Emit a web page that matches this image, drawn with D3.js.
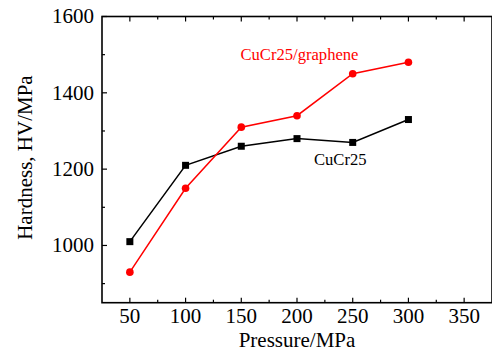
<!DOCTYPE html>
<html>
<head>
<meta charset="utf-8">
<script src="https://cdn.jsdelivr.net/npm/d3@7"></script>
<style>
  body { margin: 0; background: #fff; }
  text { font-family: "Liberation Serif", "Times New Roman", serif; }
</style>
</head>
<body>
<div id="viz"></div>
<script>
// pressure (MPa) and hardness (HV/MPa)
const pressure = [50, 100, 150, 200, 250, 300];
const cucr25 = [1010, 1210, 1260, 1280, 1270, 1330];
const cucr25Graphene = [930, 1150, 1310, 1340, 1450, 1480];
const seriesNames = ["CuCr25", "CuCr25/graphene"];
const xTicks = [50, 100, 150, 200, 250, 300, 350];
const yTicks = [1000, 1200, 1400, 1600];

const width = 492, height = 351;
const plot = {left: 102, right: 492, top: 16.5, bottom: 302.7};

const svg = d3.select("#viz").append("svg")
  .attr("width", width)
  .attr("height", height);

const x = d3.scaleLinear().domain([25, 375]).range([plot.left, plot.right]);
const y = d3.scaleLinear().domain([850, 1600]).range([plot.bottom, plot.top]);

const minorX = d3.range(75, 375, 50);
const minorY = d3.range(900, 1600, 200);

// frame
svg.append("rect")
  .attr("x", plot.left).attr("y", plot.top)
  .attr("width", plot.right - plot.left).attr("height", plot.bottom - plot.top)
  .attr("fill", "none").attr("stroke", "#000").attr("stroke-width", 1.6);

// ticks, all pointing inward
const ticks = svg.append("g").attr("stroke", "#000").attr("stroke-width", 1.2);
xTicks.forEach(v => {
  ticks.append("line").attr("x1", x(v)).attr("x2", x(v)).attr("y1", plot.bottom).attr("y2", plot.bottom - 5);
  ticks.append("line").attr("x1", x(v)).attr("x2", x(v)).attr("y1", plot.top).attr("y2", plot.top + 5);
});
minorX.forEach(v => {
  ticks.append("line").attr("x1", x(v)).attr("x2", x(v)).attr("y1", plot.bottom).attr("y2", plot.bottom - 3);
  ticks.append("line").attr("x1", x(v)).attr("x2", x(v)).attr("y1", plot.top).attr("y2", plot.top + 3);
});
yTicks.forEach(v => {
  ticks.append("line").attr("x1", plot.left).attr("x2", plot.left + 5).attr("y1", y(v)).attr("y2", y(v));
});
minorY.forEach(v => {
  ticks.append("line").attr("x1", plot.left).attr("x2", plot.left + 3).attr("y1", y(v)).attr("y2", y(v));
});

// tick labels
svg.append("g").selectAll("text")
  .data(xTicks)
  .join("text")
  .attr("x", d => x(d))
  .attr("y", plot.bottom + 20)
  .attr("text-anchor", "middle")
  .attr("font-size", "21px")
  .text(d => d);

svg.append("g").selectAll("text")
  .data(yTicks)
  .join("text")
  .attr("x", plot.left - 8)
  .attr("y", d => y(d))
  .attr("dy", "0.33em")
  .attr("text-anchor", "end")
  .attr("font-size", "21px")
  .text(d => d);

// axis titles
svg.append("text")
  .attr("x", (plot.left + plot.right) / 2)
  .attr("y", 346.5)
  .attr("text-anchor", "middle")
  .attr("font-size", "21px")
  .text("Pressure/MPa");

svg.append("text")
  .attr("transform", `translate(31.5, ${(plot.top + plot.bottom) / 2 - 2}) rotate(-90)`)
  .attr("text-anchor", "middle")
  .attr("font-size", "21px")
  .text("Hardness, HV/MPa");

// series
const series = [
  { name: seriesNames[0], values: cucr25, color: "#000", shape: "square" },
  { name: seriesNames[1], values: cucr25Graphene, color: "#ff0000", shape: "circle" }
];

const line = d3.line()
  .x((d, i) => x(pressure[i]))
  .y(d => y(d));

series.forEach(s => {
  svg.append("path")
    .datum(s.values)
    .attr("d", line)
    .attr("fill", "none")
    .attr("stroke", s.color)
    .attr("stroke-width", 1.5);

  const pts = svg.append("g").attr("fill", s.color);
  if (s.shape === "square") {
    pts.selectAll("rect")
      .data(s.values)
      .join("rect")
      .attr("x", (d, i) => x(pressure[i]) - 3.5)
      .attr("y", d => y(d) - 3.5)
      .attr("width", 7)
      .attr("height", 7);
  } else {
    pts.selectAll("circle")
      .data(s.values)
      .join("circle")
      .attr("cx", (d, i) => x(pressure[i]))
      .attr("cy", d => y(d))
      .attr("r", 3.8);
  }
});

// series labels
svg.append("text")
  .attr("x", 240.5)
  .attr("y", 60)
  .attr("font-size", "16.6px")
  .attr("fill", "#ff0000")
  .text(seriesNames[1]);

svg.append("text")
  .attr("x", 314)
  .attr("y", 165)
  .attr("font-size", "16.6px")
  .attr("fill", "#000")
  .text(seriesNames[0]);
</script>
</body>
</html>
